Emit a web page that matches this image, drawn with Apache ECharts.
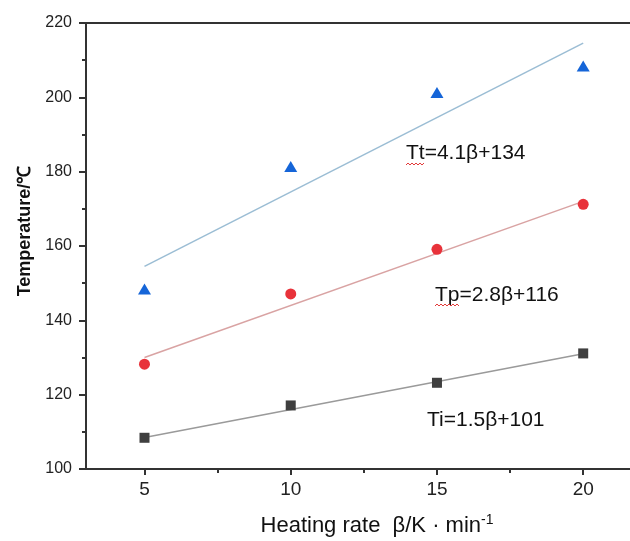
<!DOCTYPE html>
<html>
<head>
<meta charset="utf-8">
<script src="https://cdn.jsdelivr.net/npm/echarts@6/dist/echarts.min.js"></script>
<style>
  html, body { margin: 0; padding: 0; background: #fff; }
  #chart { width: 630px; height: 541px; }
</style>
</head>
<body>
<div id="chart"></div>
<script>
// Heating rates (K/min)
const heatingRates = [5, 10, 15, 20];

// Characteristic temperatures (°C) at each heating rate
const tempTt = [148.4, 181.4, 201.3, 208.4];
const tempTp = [128.2, 147.1, 159.1, 171.2];
const tempTi = [108.4, 117.1, 123.2, 131.1];

// Linear fit end points [beta, T]
const fitTt = [[5, 154.5], [20, 214.6]];
const fitTp = [[5, 130.0], [20, 172.0]];
const fitTi = [[5, 108.5], [20, 131.0]];

// Tick positions / labels
const xMajorTicks = [5, 10, 15, 20];
const xMinorTicks = [7.5, 12.5, 17.5];
const equations = ['Tt=4.1\u03b2+134', 'Tp=2.8\u03b2+116', 'Ti=1.5\u03b2+101'];

const pair = (xs, ys) => xs.map((x, i) => [x, ys[i]]);

const chart = echarts.init(document.getElementById('chart'), null, { renderer: 'canvas' });

const axisColor = '#333';
const font = 'Arial, "Liberation Sans", sans-serif';

chart.setOption({
  animation: false,
  backgroundColor: '#fff',
  grid: { left: 86, top: 23, right: 0, bottom: 72, containLabel: false },
  xAxis: [
    {
      type: 'value', min: 3, max: 21.6,
      axisLine: { show: true, lineStyle: { color: axisColor, width: 2 } },
      axisTick: { show: true, inside: false, length: 6, lineStyle: { color: axisColor, width: 2 }, customValues: xMajorTicks },
      axisLabel: { show: true, customValues: xMajorTicks, margin: 11, fontSize: 19, color: '#222', fontFamily: font },
      splitLine: { show: false }
    },
    {
      type: 'value', min: 3, max: 21.6, position: 'bottom',
      axisLine: { show: false },
      axisTick: { show: true, length: 4, lineStyle: { color: axisColor, width: 2 }, customValues: xMinorTicks },
      axisLabel: { show: false },
      splitLine: { show: false }
    },
    {
      type: 'value', min: 3, max: 21.6, position: 'top',
      axisLine: { show: true, onZero: false, lineStyle: { color: axisColor, width: 2 } },
      axisTick: { show: false }, axisLabel: { show: false }, splitLine: { show: false }
    }
  ],
  yAxis: {
    type: 'value', min: 100, max: 220, interval: 20,
    axisLine: { show: true, lineStyle: { color: axisColor, width: 2 } },
    axisTick: { show: true, length: 7, lineStyle: { color: axisColor, width: 2 } },
    minorTick: { show: true, splitNumber: 2, length: 4, lineStyle: { color: axisColor, width: 2 } },
    axisLabel: { margin: 14, fontSize: 16, color: '#222', fontFamily: '"Liberation Sans Narrow", Arial, sans-serif' },
    splitLine: { show: false }
  },
  series: [
    { type: 'line', data: fitTt, symbol: 'none', lineStyle: { color: '#9bbdd4', width: 1.5 }, z: 2 },
    { type: 'line', data: fitTp, symbol: 'none', lineStyle: { color: '#d9a3a3', width: 1.5 }, z: 2 },
    { type: 'line', data: fitTi, symbol: 'none', lineStyle: { color: '#9a9a9a', width: 1.5 }, z: 2 },
    { type: 'scatter', data: pair(heatingRates, tempTt), symbol: 'triangle', symbolSize: [13, 11], itemStyle: { color: '#1565d8', opacity: 1 }, z: 3 },
    { type: 'scatter', data: pair(heatingRates, tempTp), symbol: 'circle', symbolSize: 11, itemStyle: { color: '#e8323a', opacity: 1 }, z: 3 },
    { type: 'scatter', data: pair(heatingRates, tempTi), symbol: 'rect', symbolSize: 10, itemStyle: { color: '#3f3f3f', opacity: 1 }, z: 3 }
  ],
  graphic: [
    {
      type: 'text', x: 25, y: 231, rotation: Math.PI / 2,
      style: { text: 'Temperature/\u2103', font: 'bold 18px ' + font, fill: '#111', align: 'center', verticalAlign: 'middle' }
    },
    {
      type: 'text', x: 377, y: 525,
      style: {
        text: '{m|Heating rate  \u03b2/K \u00b7 min}{s|-1}',
        align: 'center', verticalAlign: 'middle',
        rich: {
          m: { fontSize: 22, fontFamily: font, fill: '#111', verticalAlign: 'bottom', lineHeight: 24 },
          s: { fontSize: 14, fontFamily: font, fill: '#111', verticalAlign: 'top', lineHeight: 24, padding: [0, 0, 12, 0] }
        }
      }
    },
    { type: 'text', x: 406, y: 153, style: { text: equations[0], font: '21px ' + font, fill: '#111', verticalAlign: 'middle' } },
    { type: 'text', x: 435, y: 295, style: { text: equations[1], font: '21px ' + font, fill: '#111', verticalAlign: 'middle' } },
    { type: 'text', x: 427, y: 420, style: { text: equations[2], font: '21px ' + font, fill: '#111', verticalAlign: 'middle' } },
    // spell-check squiggles under Tt and Tp
    {
      type: 'polyline', shape: { points: [[406,165],[408,163],[410,165],[412,163],[414,165],[416,163],[418,165],[420,163],[422,165],[424,163]] },
      style: { stroke: '#e23a3a', lineWidth: 1, fill: null }
    },
    {
      type: 'polyline', shape: { points: [[435,306],[437,304],[439,306],[441,304],[443,306],[445,304],[447,306],[449,304],[451,306],[453,304],[455,306],[457,304],[459,306]] },
      style: { stroke: '#e23a3a', lineWidth: 1, fill: null }
    }
  ]
});
</script>
</body>
</html>
